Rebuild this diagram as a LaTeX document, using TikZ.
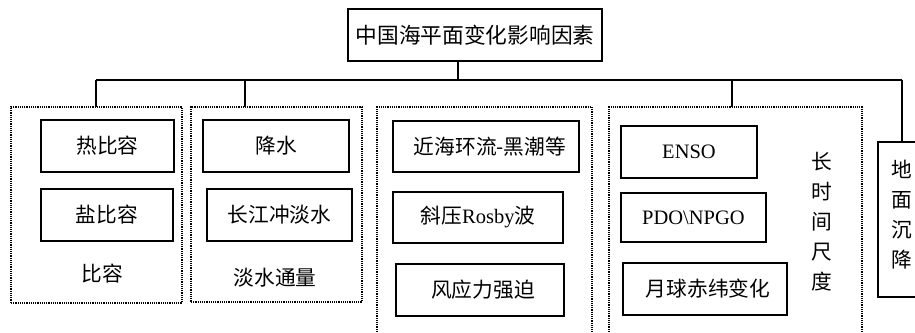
\documentclass[tikz,border=0pt]{standalone}
\usepackage{fontspec}
\setmainfont{Liberation Serif}
\newfontfamily\cjk[Scale=1.01]{Noto Sans CJK SC}
\begin{document}
\begin{tikzpicture}[x=1pt,y=-1pt,
  box/.style={draw,line width=1.3pt,inner sep=0pt,font=\fontsize{20.5}{22}\selectfont},
  grp/.style={draw,line width=1.2pt,densely dotted},
  lbl/.style={inner sep=0pt,font=\fontsize{20.5}{22}\selectfont},
  conn/.style={line width=1.3pt}]
\useasboundingbox (0,0) rectangle (915,332);
% title
\node[box,minimum width=254pt,minimum height=52pt,font=\fontsize{21.5}{23}\selectfont] (title) at (475,35) {\cjk 中国海平面变化影响因素};
% groups
\node[grp,minimum width=171pt,minimum height=196pt,inner sep=0pt] (g1) at (96.5,205) {};
\node[grp,minimum width=171pt,minimum height=195pt,inner sep=0pt] (g2) at (276.5,204.5) {};
\coordinate (g3tl) at (377,107); \coordinate (g3tr) at (592,107);
\coordinate (g3bl) at (377,332); \coordinate (g3br) at (592,332);
\draw[grp] (g3bl) -- (g3tl) -- (g3tr) -- (g3br);
\coordinate (g4tl) at (609,107); \coordinate (g4tr) at (862,107);
\coordinate (g4bl) at (609,332); \coordinate (g4br) at (862,332);
\draw[grp] (g4bl) -- (g4tl) -- (g4tr) -- (g4br);
% group 5 (cut off at right)
\coordinate (g5tr) at (916,142); \coordinate (g5tl) at (878,142);
\coordinate (g5bl) at (878,297); \coordinate (g5br) at (916,297);
\coordinate (g5top) at (902,142);
\draw[conn] (g5tr) -- (g5tl) -- (g5bl) -- (g5br);
\node[lbl,align=center,font=\fontsize{20.5}{30}\selectfont] (t5) at (902,215) {\cjk 地\\\cjk 面\\\cjk 沉\\\cjk 降};
% inner boxes
\node[box,minimum width=133pt,minimum height=52pt] (b1) at (107.5,146) {\cjk 热比容};
\node[box,minimum width=132pt,minimum height=52pt] (b2) at (107,215) {\cjk 盐比容};
\node[lbl] (l1) at (102,274) {\cjk 比容};
\node[box,minimum width=146pt,minimum height=52pt] (b3) at (276,146) {\cjk 降水};
\node[box,minimum width=145pt,minimum height=52pt] (b4) at (279.5,215) {\cjk 长江冲淡水};
\node[lbl] (l2) at (275,278) {\cjk 淡水通量};
\node[box,minimum width=186pt,minimum height=51pt] (b5) at (486,146.5) {\hspace{8pt}\cjk 近海环流-黑潮等};
\node[box,minimum width=170pt,minimum height=51pt] (b6) at (478,217.5) {{\cjk 斜压}Rosby{\cjk 波}};
\node[box,minimum width=168pt,minimum height=52pt] (b7) at (480,290) {\hspace{6pt}\cjk 风应力强迫};
\node[box,minimum width=136pt,minimum height=52pt] (b8) at (689,152) {ENSO};
\node[box,minimum width=145pt,minimum height=49pt] (b9) at (693.5,217.5) {PDO\textbackslash NPGO};
\node[box,minimum width=164pt,minimum height=52pt] (b10) at (705,289) {\hspace{6pt}\cjk 月球赤纬变化};
\node[lbl,align=center,font=\fontsize{20.5}{30}\selectfont] (t4) at (822,222) {\cjk 长\\\cjk 时\\\cjk 间\\\cjk 尺\\\cjk 度};
% connectors
\coordinate (j0) at (458,80);
\coordinate (hl) at (96,80);
\coordinate (hr) at (902,80);
\coordinate (j1) at (96,80);
\coordinate (j2) at (245,80);
\coordinate (j4) at (732,80);
\coordinate (g1top) at (96,107);
\coordinate (g2top) at (245,107);
\coordinate (g4top) at (732,107);
\draw[conn] (title.south -| j0) -- (j0);
\draw[conn] (hl) -- (hr);
\draw[conn] (j1) -- (g1top);
\draw[conn] (j2) -- (g2top);
\draw[conn] (j4) -- (g4top);
\draw[conn] (hr) -- (g5top);
\end{tikzpicture}
\end{document}
